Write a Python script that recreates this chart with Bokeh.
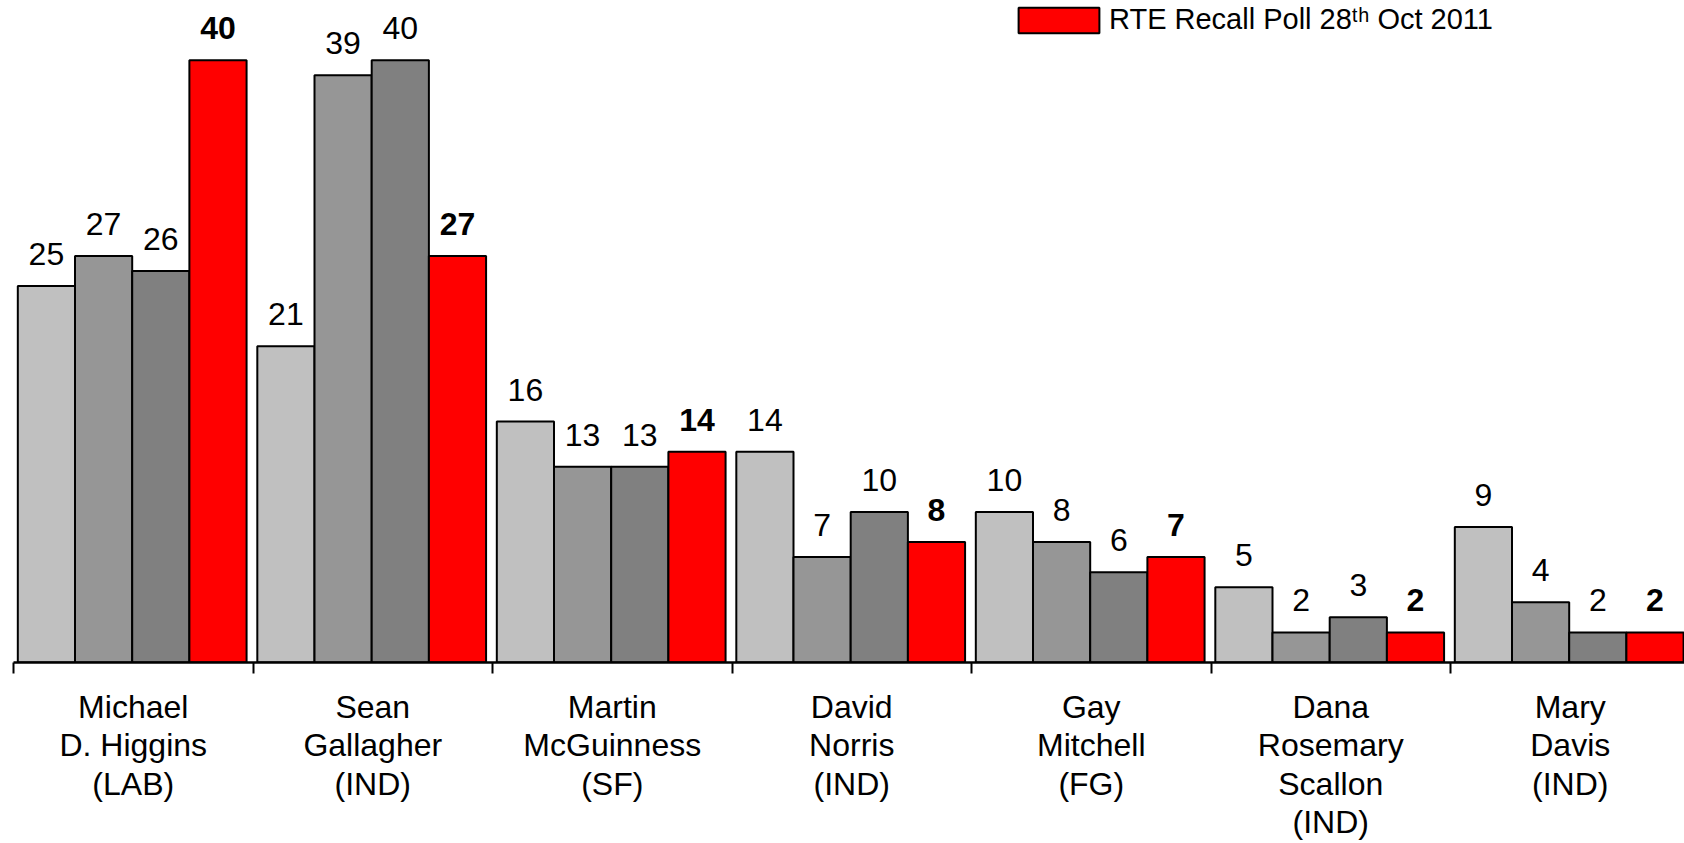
from bokeh.plotting import figure
from bokeh.models import Range1d, FixedTicker, Legend, LegendItem
from bokeh.core.properties import value
from bokeh.embed import file_html
from bokeh.resources import INLINE

# ---- data ----
candidates = [
    "Michael\nD. Higgins\n(LAB)",
    "Sean\nGallagher\n(IND)",
    "Martin\nMcGuinness\n(SF)",
    "David\nNorris\n(IND)",
    "Gay\nMitchell\n(FG)",
    "Dana\nRosemary\nScallon\n(IND)",
    "Mary\nDavis\n(IND)",
]
poll_1 = [25, 21, 16, 14, 10, 5, 9]
poll_2 = [27, 39, 13, 7, 8, 2, 4]
poll_3 = [26, 40, 13, 10, 6, 3, 2]
rte_recall = [40, 27, 14, 8, 7, 2, 2]
recall_label = "RTE Recall Poll 28\u1d57\u02b0 Oct 2011"

series = [poll_1, poll_2, poll_3, rte_recall]
colors = ["#C0C0C0", "#969696", "#808080", "#FF0000"]

# ---- layout ----
W, H = 1684, 843
BORDER_LEFT = 13
BORDER_BOTTOM = 177
GROUP_PX = 239.5
x_end = (W - BORDER_LEFT) / GROUP_PX
frame_h = H - BORDER_BOTTOM
top_gap_px = 60
y_end = 40 + top_gap_px * 40 / (frame_h - top_gap_px)

GROUP_PAD = 0.018
BAR_W = 0.2388

p = figure(
    width=W, height=H,
    x_range=Range1d(0, x_end), y_range=Range1d(0, y_end),
    output_backend="svg", toolbar_location=None,
    y_axis_location=None,
    min_border_left=BORDER_LEFT, min_border_right=0,
    min_border_top=0, min_border_bottom=BORDER_BOTTOM,
)
p.outline_line_color = None
p.grid.visible = False
p.background_fill_color = "white"
p.border_fill_color = "white"

n = len(candidates)
centers = [i + 0.5 for i in range(n)]
bounds = list(range(n + 1))

renderers = []
for j, vals in enumerate(series):
    xs = [i + GROUP_PAD + (j + 0.5) * BAR_W for i in range(n)]
    r = p.vbar(x=xs, top=vals, bottom=0, width=BAR_W,
               fill_color=colors[j], line_color="black", line_width=2)
    renderers.append(r)
    p.text(x=xs, y=vals, text=[str(v) for v in vals],
           text_align="center", text_baseline="alphabetic", y_offset=-32,
           text_font=value("Liberation Sans"), text_font_size="32px",
           text_font_style="bold" if j == 3 else "normal",
           text_color="black")

ax = p.xaxis[0]
ax.ticker = FixedTicker(ticks=centers, minor_ticks=bounds)
ax.major_label_overrides = {c: name for c, name in zip(centers, candidates)}
ax.major_tick_in = 0
ax.major_tick_out = 0
ax.minor_tick_in = 0
ax.minor_tick_out = 11
ax.minor_tick_line_width = 2
ax.minor_tick_line_color = "black"
ax.axis_line_width = 2.5
ax.axis_line_color = "black"
ax.major_label_text_font = "Liberation Sans"
ax.major_label_text_font_size = "32px"
ax.major_label_text_line_height = 1.07
ax.major_label_text_color = "black"
ax.major_label_standoff = 15

# legend: only the recall-poll entry is visible in the (cropped) original
legend = Legend(
    items=[LegendItem(label=recall_label, renderers=[renderers[3]])],
    location=(995, frame_h - 40),
    glyph_width=101, glyph_height=32,
    label_standoff=0, padding=0, margin=0, spacing=0,
    border_line_color=None, background_fill_alpha=0,
    label_text_font="Liberation Sans", label_text_font_size="29px",
    label_text_color="black",
)
p.add_layout(legend)

open("out.html", "w").write(file_html(p, INLINE))
